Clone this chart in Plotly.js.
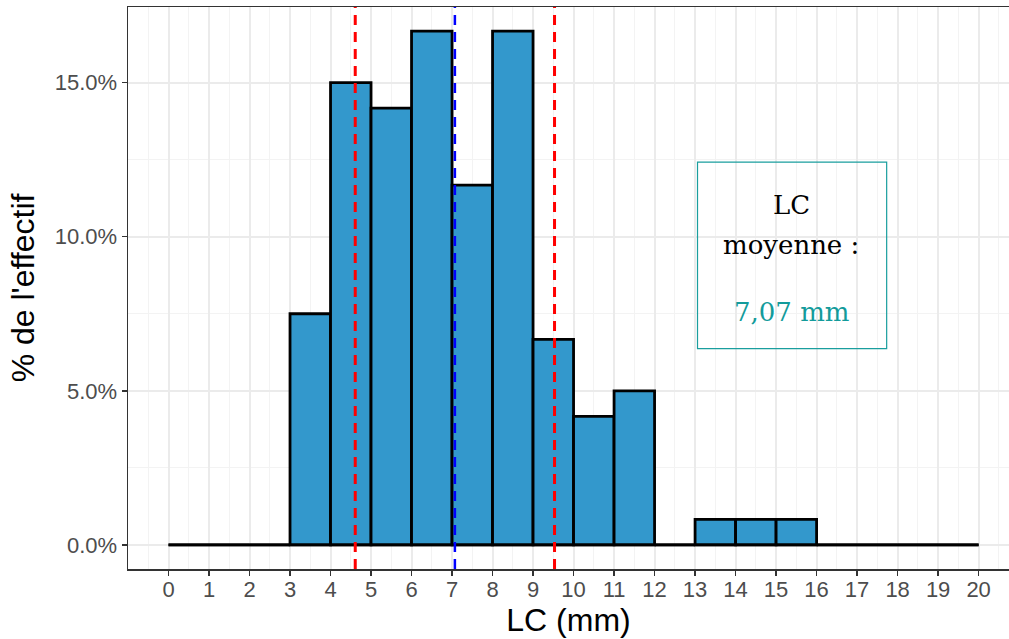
<!DOCTYPE html>
<html>
<head>
<meta charset="utf-8">
<script src="https://cdn.plot.ly/plotly-3.0.1.min.js"></script>
<style>html,body{margin:0;padding:0;background:#fff;}#chart{width:1009px;height:639px;}</style>
</head>
<body>
<div id="chart"></div>
<script>
// Histogram bins (width 1 mm) and share of the sample in each bin (%)
const binStart = [0,1,2,3,4,5,6,7,8,9,10,11,12,13,14,15,16,17,18,19];
const binWidth = 1;
const percent  = [0,0,0,7.5,15.0,14.17,16.67,11.67,16.67,6.67,4.17,5.0,0,0.83,0.83,0.83,0,0,0,0];

// Mean and mean ± sd lines
const meanLC = 7.07;
const sdLow  = 4.61;
const sdHigh = 9.53;

// Axis ticks
const xTicks = [0,1,2,3,4,5,6,7,8,9,10,11,12,13,14,15,16,17,18,19,20];
const yTicks = [0,5,10,15];
const yTickText = ["0.0%","5.0%","10.0%","15.0%"];

const centers = binStart.map(b => b + binWidth/2);
const firstEdge = binStart[0];
const lastEdge = binStart[binStart.length-1] + binWidth;

const bars = {
  type: 'bar',
  x: centers,
  y: percent,
  width: binStart.map(() => binWidth),
  marker: {color: '#3398CC', line: {color: '#000000', width: 2.8}},
  hoverinfo: 'skip',
  showlegend: false
};
const baseline = {
  type: 'scatter', mode: 'lines',
  x: [firstEdge, lastEdge], y: [0, 0],
  line: {color: '#000000', width: 2.8},
  hoverinfo: 'skip', showlegend: false
};

const meanTxt = meanLC.toFixed(2).replace('.', ',') + ' mm';

const gridMajor = '#EBEBEB';
const gridMinor = '#F3F3F3';
const sans = 'Liberation Sans, Arial, sans-serif';
const serif = 'DejaVu Serif, serif';

const layout = {
  width: 1009, height: 639,
  margin: {l: 128, r: 0, t: 7, b: 70},
  paper_bgcolor: '#FFFFFF', plot_bgcolor: '#FFFFFF',
  bargap: 0,
  xaxis: {
    range: [-1, 20.75],
    tickvals: xTicks, ticktext: xTicks.map(String),
    ticks: 'outside', ticklen: 5, tickwidth: 1.5, tickcolor: '#333333',
    tickfont: {family: sans, size: 22, color: '#4D4D4D'},
    ticklabelstandoff: -5,
    showgrid: true, gridcolor: gridMajor, gridwidth: 2,
    minor: {dtick: 0.5, showgrid: true, gridcolor: gridMinor, gridwidth: 1},
    showline: true, linecolor: '#333333', linewidth: 1.5, mirror: true,
    zeroline: false,
    title: {text: 'LC (mm)', font: {family: sans, size: 32, color: '#000000'}, standoff: 4}
  },
  yaxis: {
    range: [-0.78, 17.45],
    tickvals: yTicks, ticktext: yTickText,
    ticks: 'outside', ticklen: 5, tickwidth: 1.5, tickcolor: '#333333',
    tickfont: {family: sans, size: 22, color: '#4D4D4D'},
    showgrid: true, gridcolor: gridMajor, gridwidth: 2,
    minor: {dtick: 2.5, showgrid: true, gridcolor: gridMinor, gridwidth: 1},
    showline: true, linecolor: '#333333', linewidth: 1.5, mirror: false,
    zeroline: false,
    title: {text: "% de l'effectif", font: {family: sans, size: 32, color: '#000000'}, standoff: 10}
  },
  shapes: [
    {type: 'line', xref: 'x', yref: 'paper', x0: sdLow, x1: sdLow, y0: 0, y1: 1,
     line: {color: '#FF0000', width: 3, dash: '10px,7px'}},
    {type: 'line', xref: 'x', yref: 'paper', x0: meanLC, x1: meanLC, y0: 0, y1: 1,
     line: {color: '#0000FF', width: 2.5, dash: '10px,7px'}},
    {type: 'line', xref: 'x', yref: 'paper', x0: sdHigh, x1: sdHigh, y0: 0, y1: 1,
     line: {color: '#FF0000', width: 3, dash: '10px,7px'}},
    {type: 'rect', xref: 'x', yref: 'y', x0: 13.06, x1: 17.73, y0: 6.37, y1: 12.42,
     line: {color: '#1A9E9E', width: 1.2}, fillcolor: 'rgba(255,255,255,0)'}
  ],
  annotations: [
    {xref: 'x', yref: 'y', x: 15.38, y: 11.03, showarrow: false,
     text: 'LC', align: 'center',
     font: {family: serif, size: 26, color: '#000000'}},
    {xref: 'x', yref: 'y', x: 15.38, y: 9.72, showarrow: false,
     text: 'moyenne :', align: 'center',
     font: {family: serif, size: 26, color: '#000000'}},
    {xref: 'x', yref: 'y', x: 15.38, y: 7.57, showarrow: false,
     text: meanTxt, align: 'center',
     font: {family: serif, size: 26, color: '#139B9B'}}
  ]
};

Plotly.newPlot('chart', [bars, baseline], layout, {displayModeBar: false, staticPlot: true});
</script>
</body>
</html>
